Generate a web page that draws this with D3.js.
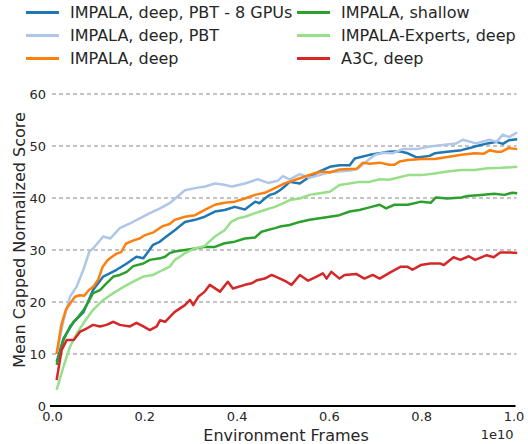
<!DOCTYPE html>
<html>
<head>
<meta charset="utf-8">
<script src="https://cdn.jsdelivr.net/npm/d3@7"></script>
<style>
  body { margin: 0; background: #fff; }
  text { font-family: "DejaVu Sans", sans-serif; fill: #262626; }
</style>
</head>
<body>
<div id="chart"></div>
<script>
const names = ['IMPALA, deep, PBT - 8 GPUs', 'IMPALA, deep, PBT', 'IMPALA, deep',
  'IMPALA, shallow', 'IMPALA-Experts, deep', 'A3C, deep']
const colors = ['#1f77b4', '#aec7e8', '#ff7f0e', '#2ca02c', '#98df8a', '#d62728']
const yTicks = [0, 10, 20, 30, 40, 50, 60]
const xTicks = [0, 0.2, 0.4, 0.6, 0.8, 1.0]

const pbt8 = [[0.01, 8.5], [0.025, 13.0], [0.047, 16.2], [0.068, 18.0], [0.089, 22.3], [0.111, 24.9],
  [0.14, 26.2], [0.162, 27.4], [0.183, 28.7], [0.198, 28.4], [0.219, 31], [0.232, 31.5], [0.245, 32.4],
  [0.266, 33.8], [0.288, 35.4], [0.31, 35.8], [0.331, 36.4], [0.353, 37.4], [0.374, 37.7], [0.396, 38.3],
  [0.418, 37.8], [0.44, 39.3], [0.45, 39], [0.461, 39.9], [0.472, 40.6], [0.483, 40.9], [0.494, 41.5],
  [0.504, 42.2], [0.515, 43.1], [0.537, 42.8], [0.558, 44.1], [0.58, 45.1], [0.602, 46], [0.623, 46.3],
  [0.645, 46.3], [0.656, 47.6], [0.688, 48.3], [0.71, 48.6], [0.73, 48.9], [0.753, 49.0], [0.771, 48.6],
  [0.79, 47.8], [0.8, 47.9], [0.818, 48.1], [0.829, 48.6], [0.857, 48.9], [0.887, 49.2], [0.905, 49.6],
  [0.916, 49.9], [0.944, 50.5], [0.963, 50.8], [0.977, 50.4], [0.99, 51.1], [1.008, 51.3]]

const pbt = [[0.01, 10], [0.025, 16.5], [0.039, 21], [0.053, 22.9], [0.068, 26.2], [0.081, 29.7],
  [0.089, 30.3], [0.111, 32.6], [0.126, 32.2], [0.147, 34.2], [0.169, 35.1], [0.19, 36.1], [0.212, 37.1],
  [0.234, 38], [0.255, 39], [0.288, 41.5], [0.31, 41.9], [0.332, 42.2], [0.353, 42.8], [0.37, 42.6],
  [0.39, 42.2], [0.418, 42.8], [0.446, 43.6], [0.468, 42.9], [0.489, 43.3], [0.5, 44.2], [0.515, 43.6],
  [0.537, 44.6], [0.558, 43.9], [0.58, 44.4], [0.602, 45.0], [0.623, 45.1], [0.645, 45.3], [0.662, 45.6],
  [0.681, 47.0], [0.7, 48.3], [0.717, 48.7], [0.738, 48.6], [0.76, 49.4], [0.79, 49.4], [0.818, 49.9],
  [0.847, 50.2], [0.876, 50.5], [0.89, 51.2], [0.919, 50.5], [0.948, 51.2], [0.963, 50.8], [0.977, 52.2],
  [0.99, 51.7], [1.008, 52.6]]

const deep = [[0.01, 10], [0.02, 15.5], [0.03, 18.5], [0.04, 19.8], [0.05, 21], [0.06, 21.3], [0.07, 21.2],
  [0.08, 22.3], [0.09, 23], [0.1, 24.3], [0.11, 26.8], [0.12, 28], [0.13, 28.7], [0.14, 29.3], [0.15, 29.6],
  [0.16, 31.2], [0.175, 31.8], [0.19, 32.2], [0.2, 32.8], [0.22, 33.4], [0.24, 34.6], [0.255, 35],
  [0.266, 35.8], [0.288, 36.4], [0.31, 36.7], [0.331, 37.7], [0.353, 38.7], [0.374, 39.1], [0.396, 39.3],
  [0.418, 39.9], [0.44, 40.6], [0.461, 41], [0.483, 41.9], [0.504, 42.8], [0.537, 43.8], [0.566, 44.7],
  [0.587, 45.1], [0.602, 44.9], [0.623, 45.5], [0.645, 45.6], [0.66, 45.6], [0.674, 46.8], [0.688, 46.6],
  [0.71, 46.8], [0.73, 46.4], [0.742, 46.4], [0.753, 47], [0.771, 47.3], [0.8, 47.5], [0.829, 47.5],
  [0.857, 47.9], [0.887, 48.3], [0.916, 48.6], [0.935, 48.5], [0.949, 49.2], [0.963, 48.9], [0.974, 48.9],
  [0.989, 49.6], [1.008, 49.4]]

const shallow = [[0.01, 7.9], [0.025, 12.7], [0.039, 15.3], [0.054, 16.8], [0.068, 18.4], [0.075, 19.4],
  [0.089, 21.7], [0.104, 22.3], [0.118, 23.6], [0.133, 24.9], [0.147, 25.2], [0.162, 25.8], [0.176, 26.9],
  [0.198, 27.4], [0.212, 28.1], [0.234, 28.4], [0.245, 28.7], [0.255, 29.4], [0.266, 29.7], [0.288, 30],
  [0.31, 30.3], [0.331, 30.6], [0.353, 30.6], [0.374, 31.3], [0.396, 31.6], [0.418, 32.2], [0.44, 32.4],
  [0.454, 33.5], [0.483, 34.2], [0.494, 34.5], [0.515, 34.8], [0.537, 35.4], [0.558, 35.8], [0.58, 36.1],
  [0.602, 36.4], [0.623, 36.7], [0.645, 37.4], [0.666, 37.7], [0.688, 38.2], [0.71, 38.7], [0.724, 38.0],
  [0.742, 38.7], [0.771, 38.7], [0.8, 39.3], [0.821, 39.1], [0.832, 40.1], [0.857, 39.9], [0.887, 40.1],
  [0.9, 40.4], [0.93, 40.6], [0.958, 40.8], [0.98, 40.6], [0.997, 41], [1.008, 40.9]]

const experts = [[0.01, 3.1], [0.025, 7.6], [0.039, 11.4], [0.054, 14], [0.068, 15.9], [0.089, 18.5],
  [0.111, 20.4], [0.133, 21.7], [0.155, 22.9], [0.176, 23.9], [0.198, 24.9], [0.219, 25.2], [0.241, 26.2],
  [0.255, 26.8], [0.266, 28.1], [0.277, 28.7], [0.288, 29.4], [0.31, 30.3], [0.331, 30.8], [0.353, 32.6],
  [0.374, 33.8], [0.388, 35.4], [0.403, 36.1], [0.418, 36.4], [0.44, 37.1], [0.461, 37.7], [0.483, 38.3],
  [0.504, 39.1], [0.515, 39.6], [0.537, 39.9], [0.558, 40.6], [0.58, 40.9], [0.602, 41.2], [0.623, 42.5],
  [0.645, 42.8], [0.666, 43.1], [0.688, 43.1], [0.71, 43.6], [0.73, 43.5], [0.753, 44], [0.771, 44.4],
  [0.8, 44.4], [0.829, 44.7], [0.857, 45.1], [0.887, 45.4], [0.916, 45.4], [0.944, 45.7], [0.974, 45.8],
  [1.008, 46]]

const a3c = [[0.01, 5], [0.021, 10.8], [0.032, 12.7], [0.047, 12.7], [0.061, 14.3], [0.075, 14.9],
  [0.089, 15.6], [0.104, 15.3], [0.118, 15.6], [0.133, 16.2], [0.147, 15.6], [0.169, 15.3], [0.183, 16],
  [0.198, 15.3], [0.212, 14.6], [0.227, 15.3], [0.234, 16.5], [0.245, 16.2], [0.266, 18.1], [0.288, 19.4],
  [0.299, 20.4], [0.306, 19.4], [0.317, 21], [0.331, 22], [0.342, 23.3], [0.364, 22], [0.381, 23.9],
  [0.392, 22.6], [0.418, 23.3], [0.433, 23.6], [0.444, 24.2], [0.461, 24.5], [0.476, 25.2], [0.494, 24.5],
  [0.508, 23.9], [0.519, 23.3], [0.537, 25.2], [0.555, 24.1], [0.569, 24.7], [0.587, 25.5], [0.595, 24.5],
  [0.605, 25.8], [0.623, 24.5], [0.634, 25.2], [0.659, 25.4], [0.677, 24.5], [0.695, 25.2], [0.71, 24.5],
  [0.735, 25.8], [0.756, 26.8], [0.77, 26.8], [0.781, 26.2], [0.799, 27.1], [0.82, 27.4], [0.842, 27.4],
  [0.849, 27.1], [0.87, 28.6], [0.885, 28.1], [0.903, 28.8], [0.917, 28.1], [0.942, 29], [0.957, 28.6],
  [0.971, 29.5], [0.993, 29.5], [1.008, 29.4]]

const series = [pbt8, pbt, deep, shallow, experts, a3c]

const width = 528
const height = 444

const svg = d3.select('#chart')
  .append('svg')
  .attr('width', width)
  .attr('height', height)

const xScale = d3.scaleLinear().domain([0, 1]).range([52, 513.5])
const yScale = d3.scaleLinear().domain([0, 60]).range([406, 94])

// dashed grid
svg.append('g')
  .selectAll('line')
  .data(yTicks.filter(d => d > 0))
  .enter()
  .append('line')
  .attr('x1', xScale(0))
  .attr('x2', xScale(1) + 3)
  .attr('y1', d => yScale(d))
  .attr('y2', d => yScale(d))
  .attr('stroke', '#b0b0b0')
  .attr('stroke-width', 1.5)
  .attr('stroke-dasharray', '4,3')

// axes
const xAxis = svg.append('g')
  .attr('transform', `translate(0,${yScale(0)})`)
  .call(d3.axisBottom(xScale).tickValues(xTicks).tickFormat(d3.format('.1f')).tickSize(0).tickPadding(6))
xAxis.select('.domain').remove()
xAxis.selectAll('text').attr('font-size', 13).style('font-family', '"DejaVu Sans", sans-serif').attr('fill', '#262626')

const yAxis = svg.append('g')
  .attr('transform', `translate(${xScale(0)},0)`)
  .call(d3.axisLeft(yScale).tickValues(yTicks).tickSize(0).tickPadding(6))
yAxis.select('.domain').remove()
yAxis.selectAll('text').attr('font-size', 13).style('font-family', '"DejaVu Sans", sans-serif').attr('fill', '#262626')

// lines
const line = d3.line().x(d => xScale(d[0])).y(d => yScale(d[1]))

svg.append('g')
  .selectAll('path')
  .data(series)
  .enter()
  .append('path')
  .attr('d', line)
  .attr('fill', 'none')
  .attr('stroke', (d, i) => colors[i])
  .attr('stroke-width', 2.5)
  .attr('stroke-linejoin', 'round')

// bottom spine
svg.append('line')
  .attr('x1', xScale(0) - 2)
  .attr('x2', xScale(1) + 2)
  .attr('y1', yScale(0))
  .attr('y2', yScale(0))
  .attr('stroke', '#000')
  .attr('stroke-width', 2)

// labels
svg.append('text')
  .attr('x', 286)
  .attr('y', 441)
  .attr('text-anchor', 'middle')
  .attr('font-size', 16)
  .text('Environment Frames')

svg.append('text')
  .attr('x', xScale(1))
  .attr('y', 439)
  .attr('text-anchor', 'end')
  .attr('font-size', 13)
  .text('1e10')

svg.append('text')
  .attr('transform', 'translate(25,240) rotate(-90)')
  .attr('text-anchor', 'middle')
  .attr('font-size', 16)
  .text('Mean Capped Normalized Score')

// legend, two columns of three
const legend = svg.append('g')
  .selectAll('g')
  .data(names)
  .enter()
  .append('g')
  .attr('transform', (d, i) => `translate(${i < 3 ? 26 : 297},${12.5 + (i % 3) * 23})`)

legend.append('line')
  .attr('x1', 0)
  .attr('x2', 33)
  .attr('stroke', (d, i) => colors[i])
  .attr('stroke-width', 3)

legend.append('text')
  .attr('x', 44)
  .attr('y', 5.5)
  .attr('font-size', 16)
  .text(d => d)
</script>
</body>
</html>
